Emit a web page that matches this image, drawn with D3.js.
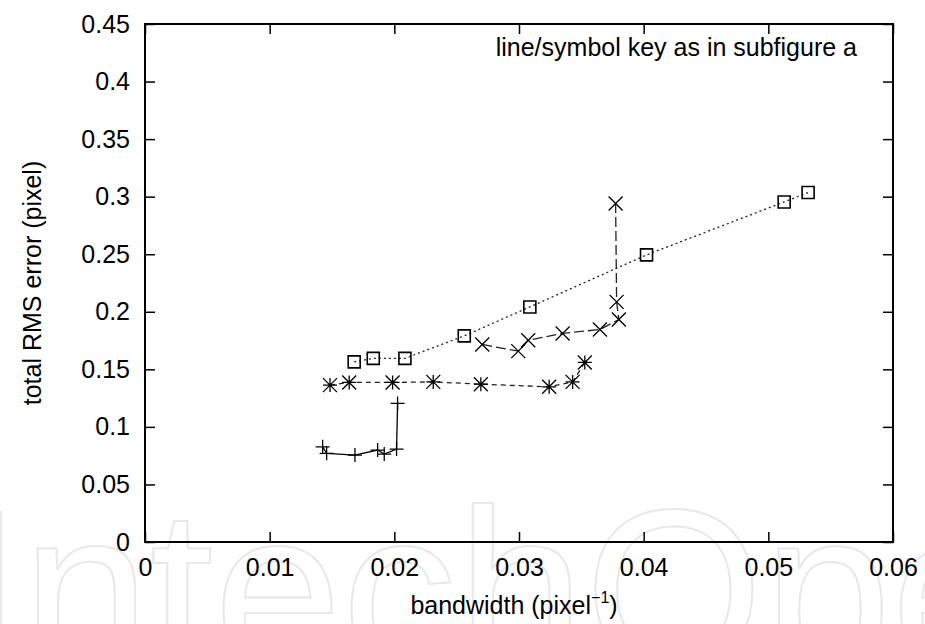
<!DOCTYPE html>
<html>
<head>
<meta charset="utf-8">
<script src="https://cdn.jsdelivr.net/npm/d3@7/dist/d3.min.js"></script>
<style>
  html, body { margin: 0; padding: 0; background: #fff; }
  svg { display: block; }
  text { font-family: "Liberation Sans", Arial, Helvetica, sans-serif; fill: #000; }
</style>
</head>
<body>
<svg id="chart" width="925" height="624"></svg>
<script>
// ---- data ----
const xTicks = [0, 0.01, 0.02, 0.03, 0.04, 0.05, 0.06];
const yTicks = [0, 0.05, 0.1, 0.15, 0.2, 0.25, 0.3, 0.35, 0.4, 0.45];

const plusX = [0.01425, 0.01457, 0.01684, 0.01866, 0.01919, 0.02018, 0.02026];
const plusY = [0.0827, 0.0770, 0.0755, 0.0799, 0.0764, 0.0807, 0.1204];

const starX = [0.01484, 0.01638, 0.01986, 0.02312, 0.02694, 0.03242, 0.03430, 0.03528];
const starY = [0.1363, 0.1386, 0.1386, 0.1391, 0.1371, 0.1348, 0.1391, 0.1560];

const crossX = [0.02705, 0.02994, 0.03074, 0.03350, 0.03649, 0.03801, 0.03783, 0.03775];
const crossY = [0.1716, 0.1658, 0.1753, 0.1812, 0.1846, 0.1933, 0.2086, 0.2940];

const squareX = [0.01678, 0.01831, 0.02085, 0.02561, 0.03087, 0.04023, 0.05127, 0.05319];
const squareY = [0.1565, 0.1595, 0.1595, 0.1791, 0.2042, 0.2494, 0.2954, 0.3036];

const annotation = "line/symbol key as in subfigure a";
const xLabel = "bandwidth (pixel";
const yLabel = "total RMS error (pixel)";
const watermark = "IntechOpen";

// ---- layout ----
const svg = d3.select("#chart");
const L = 145, R = 893, T = 24, B = 542;
const x = d3.scaleLinear().domain([0, 0.06]).range([L, R]);
const y = d3.scaleLinear().domain([0, 0.45]).range([B, T]);

// watermark (faint outlined logo text, as in the reference)
svg.append("text")
  .attr("x", -42).attr("y", 670)
  .attr("font-size", 230)
  .style("fill", "none")
  .style("stroke", "#e8e8e8")
  .style("stroke-width", 2)
  .text(watermark);

// axes with inward ticks
const fs = 25;
const tickLen = 10;
svg.append("g").attr("transform", `translate(0,${B})`)
  .call(d3.axisBottom(x).tickValues(xTicks).tickSize(-tickLen).tickPadding(16).tickFormat(d3.format("")))
  .call(g => { g.select(".domain").remove(); g.selectAll("text").attr("font-size", fs).attr("dy", "0.71em"); });
svg.append("g").attr("transform", `translate(0,${T})`)
  .call(d3.axisTop(x).tickValues(xTicks).tickSize(-tickLen).tickFormat(""))
  .call(g => g.select(".domain").remove());
svg.append("g").attr("transform", `translate(${L},0)`)
  .call(d3.axisLeft(y).tickValues(yTicks).tickSize(-tickLen).tickPadding(15).tickFormat(d3.format("")))
  .call(g => { g.select(".domain").remove(); g.selectAll("text").attr("font-size", fs); });
svg.append("g").attr("transform", `translate(${R},0)`)
  .call(d3.axisRight(y).tickValues(yTicks).tickSize(-tickLen).tickFormat(""))
  .call(g => g.select(".domain").remove());
svg.selectAll(".tick line").attr("stroke", "#000").attr("stroke-width", 1.5);

// frame
svg.append("rect").attr("x", L).attr("y", T).attr("width", R - L).attr("height", B - T)
  .attr("fill", "none").attr("stroke", "#000").attr("stroke-width", 2);

// series
const line = d3.line().x(d => x(d[0])).y(d => y(d[1]));
function pts(xs, ys) { return xs.map((v, i) => [v, ys[i]]); }

const series = [
  { data: pts(plusX, plusY), dash: null, stroke: "#000", sym: "plus" },
  { data: pts(starX, starY), dash: "5,4", stroke: "#222", sym: "star" },
  { data: pts(crossX, crossY), dash: "10,4", stroke: "#222", sym: "cross" },
  { data: pts(squareX, squareY), dash: "2,3", stroke: "#222", sym: "square" }
];

const s = 7;
series.forEach(se => {
  svg.append("path").datum(se.data).attr("d", line)
    .attr("fill", "none").attr("stroke", se.stroke).attr("stroke-width", 1.3)
    .attr("stroke-dasharray", se.dash);
  const g = svg.append("g").attr("stroke", "#000").attr("fill", "none");
  se.data.forEach(d => {
    const cx = x(d[0]), cy = y(d[1]);
    let p = "";
    if (se.sym === "plus" || se.sym === "star") p += `M${cx - s},${cy}H${cx + s}M${cx},${cy - s}V${cy + s}`;
    if (se.sym === "cross" || se.sym === "star") p += `M${cx - s},${cy - s}L${cx + s},${cy + s}M${cx - s},${cy + s}L${cx + s},${cy - s}`;
    if (se.sym === "square") p += `M${cx - 6},${cy - 6}h12v12h-12Z`;
    g.append("path").attr("d", p).attr("stroke-width", se.sym === "square" ? 1.6 : 1.3);
  });
});

// annotation
svg.append("text").attr("x", 857).attr("y", 56).attr("text-anchor", "end")
  .attr("font-size", fs).text(annotation);

// axis labels
const xl = svg.append("text").attr("x", (L + R) / 2 - 5).attr("y", 614).attr("text-anchor", "middle")
  .attr("font-size", fs);
xl.append("tspan").text(xLabel);
xl.append("tspan").attr("dy", -11).attr("font-size", 16).text("\u22121");
xl.append("tspan").attr("dy", 11).text(")");

svg.append("text").attr("transform", `translate(41,${(T + B) / 2}) rotate(-90)`)
  .attr("text-anchor", "middle").attr("font-size", fs).text(yLabel);
</script>
</body>
</html>
